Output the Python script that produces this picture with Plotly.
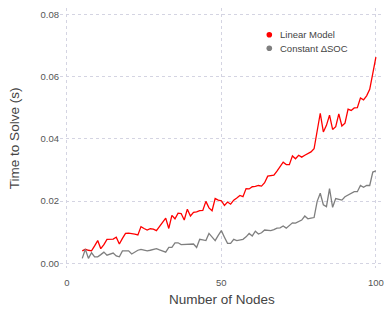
import plotly.graph_objects as go

nodes = list(range(5, 101))

linear_model = [
    0.0040, 0.0045, 0.0042, 0.0040, 0.0056, 0.0073, 0.0047, 0.0060, 0.0077, 0.0077,
    0.0078, 0.0084, 0.0062, 0.0080, 0.0096, 0.0097, 0.0096, 0.0094, 0.0091, 0.0118,
    0.0112, 0.0107, 0.0111, 0.0110, 0.0105, 0.0118, 0.0132, 0.0145, 0.0112, 0.0154,
    0.0143, 0.0161, 0.0160, 0.0139, 0.0174, 0.0152, 0.0164, 0.0165, 0.0169, 0.0170,
    0.0199, 0.0178, 0.0169, 0.0208, 0.0203, 0.0201, 0.0186, 0.0197, 0.0190, 0.0203,
    0.0210, 0.0218, 0.0214, 0.0240, 0.0239, 0.0246, 0.0247, 0.0250, 0.0248, 0.0259,
    0.0280, 0.0281, 0.0283, 0.0296, 0.0310, 0.0325, 0.0317, 0.0317, 0.0345, 0.0336,
    0.0347, 0.0341, 0.0347, 0.0353, 0.0358, 0.0368, 0.0428, 0.0482, 0.0422, 0.0443,
    0.0476, 0.0430, 0.0439, 0.0480, 0.0441, 0.0450, 0.0495, 0.0491, 0.0499, 0.0500,
    0.0531, 0.0525, 0.0538, 0.0559, 0.0610, 0.0662,
]

constant_dsoc = [
    0.0016, 0.0045, 0.0016, 0.0034, 0.0021, 0.0021, 0.0028, 0.0036, 0.0026, 0.0030,
    0.0033, 0.0024, 0.0021, 0.0040, 0.0040, 0.0040, 0.0030, 0.0036, 0.0042, 0.0045,
    0.0042, 0.0040, 0.0042, 0.0044, 0.0047, 0.0043, 0.0040, 0.0036, 0.0051, 0.0051,
    0.0066, 0.0066, 0.0060, 0.0061, 0.0062, 0.0062, 0.0062, 0.0051, 0.0077, 0.0075,
    0.0073, 0.0096, 0.0085, 0.0073, 0.0090, 0.0105, 0.0084, 0.0064, 0.0064, 0.0077,
    0.0073, 0.0075, 0.0077, 0.0085, 0.0096, 0.0088, 0.0103, 0.0094, 0.0098, 0.0107,
    0.0106, 0.0105, 0.0108, 0.0113, 0.0114, 0.0120, 0.0113, 0.0122, 0.0130, 0.0129,
    0.0135, 0.0139, 0.0152, 0.0143, 0.0145, 0.0147, 0.0199, 0.0225, 0.0188, 0.0182,
    0.0240, 0.0180, 0.0208, 0.0205, 0.0203, 0.0214, 0.0220, 0.0226, 0.0230, 0.0230,
    0.0250, 0.0244, 0.0250, 0.0250, 0.0293, 0.0297,
]

series_names = ["Linear Model", "Constant ΔSOC"]
x_title = "Number of Nodes"
y_title = "Time to Solve (s)"
x_ticks = [0, 50, 100]
y_ticks = [0.00, 0.02, 0.04, 0.06, 0.08]

RED = "#ff0000"
GRAY = "#7f7f7f"
FONT = "Liberation Sans, Arial, sans-serif"
GRID = "#d4d4e2"

fig = go.Figure()
fig.add_trace(go.Scatter(x=nodes, y=linear_model, mode="lines", name=series_names[0],
                         line=dict(color=RED, width=1.3), showlegend=False))
fig.add_trace(go.Scatter(x=nodes, y=constant_dsoc, mode="lines", name=series_names[1],
                         line=dict(color=GRAY, width=1.3), showlegend=False))

# legend drawn as dots + text (tight row spacing like the reference)
leg_x_dot, leg_x_text = 0.648, 0.676
leg_ys = [0.897, 0.845]
for name, col, ly in zip(series_names, [RED, GRAY], leg_ys):
    fig.add_shape(type="circle", xref="paper", yref="paper",
                  xsizemode="pixel", ysizemode="pixel",
                  xanchor=leg_x_dot, yanchor=ly,
                  x0=-2.8, x1=2.8, y0=-2.8, y1=2.8,
                  fillcolor=col, line=dict(width=0))
    fig.add_annotation(x=leg_x_text, y=ly, xref="paper", yref="paper",
                       text=name, showarrow=False, xanchor="left", yanchor="middle",
                       font=dict(size=9.5, color="#444444"))

# axis titles
fig.add_annotation(x=0.5, y=-0.123, xref="paper", yref="paper", text=x_title,
                   showarrow=False, xanchor="center", yanchor="middle",
                   font=dict(size=13.5, color="#444444"))
fig.add_annotation(x=-0.142, y=0.5, xref="paper", yref="paper", text=y_title,
                   showarrow=False, xanchor="center", yanchor="middle", textangle=-90,
                   font=dict(size=13.5, color="#444444"))

fig.update_layout(
    width=391, height=313,
    margin=dict(l=60, r=8, t=8, b=45),
    paper_bgcolor="white", plot_bgcolor="white",
    font=dict(family=FONT, color="#555555", size=10),
    showlegend=False,
    xaxis=dict(range=[-2.2, 102.3], tickvals=x_ticks, ticktext=[str(v) for v in x_ticks],
               showgrid=True, gridcolor=GRID, griddash="dot", gridwidth=1,
               zeroline=False, showline=False, ticks="", ticklabelstandoff=7,
               automargin=False, tickfont=dict(size=9.5, color="#555555")),
    yaxis=dict(range=[-0.0015, 0.0820], tickvals=y_ticks,
               ticktext=[f"{v:.2f}" for v in y_ticks],
               showgrid=True, gridcolor=GRID, griddash="dot", gridwidth=1,
               zeroline=False, showline=False, ticks="",
               automargin=False, tickfont=dict(size=9.5, color="#555555")),
)

fig.write_html("out.html", config={"displayModeBar": False},
               post_script="document.body.style.margin='0';")
